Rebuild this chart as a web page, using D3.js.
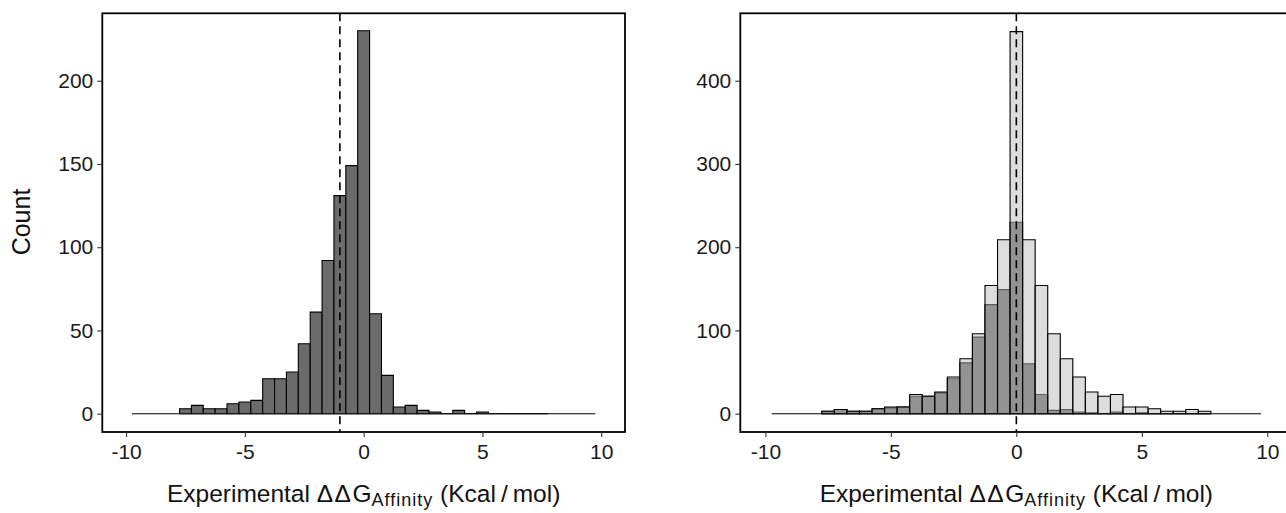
<!DOCTYPE html>
<html>
<head>
<meta charset="utf-8">
<script src="https://cdn.jsdelivr.net/npm/d3@7"></script>
<style>
  body { margin: 0; background: #fff; overflow: hidden; }
  text { font-family: "Liberation Sans", Arial, sans-serif; }
</style>
</head>
<body>
<div id="chart-area"></div>
<script>
const WIDTH = 1286;
const HEIGHT = 513;

// histogram bins (centres, width 0.5)
const binCenters = [-7.5, -7, -6.5, -6, -5.5, -5, -4.5, -4, -3.5, -3, -2.5, -2, -1.5, -1, -0.5,
  0, 0.5, 1, 1.5, 2, 2.5, 3, 3.5, 4, 4.5, 5, 5.5, 6, 6.5, 7, 7.5];
const binWidth = 0.5;
const histRange = [-9.75, 9.75];

// experimental ddG counts (left panel, dark bars of right panel)
const observedCounts = [3, 5, 3, 3, 6, 7, 8, 21, 21, 25, 42, 61, 92, 131, 149,
  230, 60, 23, 4, 5, 2, 1, 0, 2, 0, 1, 0, 0, 0, 0, 0];
// light bars of right panel
const combinedCounts = [3, 5, 3, 3, 6, 8, 8, 23, 21, 26, 44, 66, 96, 154, 209,
  459, 209, 154, 96, 66, 44, 26, 21, 23, 8, 8, 6, 3, 3, 5, 3];

const meanLines = [-1.0, 0];
const xTicks = [-10, -5, 0, 5, 10];
const yTicksLeft = [0, 50, 100, 150, 200];
const yTicksRight = [0, 100, 200, 300, 400];

const svg = d3.select("#chart-area").append("svg")
  .attr("width", WIDTH)
  .attr("height", HEIGHT);

function drawPanel(opts) {
  const x = d3.scaleLinear().domain([-11, 11]).range([opts.left, opts.right]);
  const y = d3.scaleLinear().domain(opts.yDomain).range([432, 13.3]);
  const g = svg.append("g");

  // baseline of empty bins
  g.append("line")
    .attr("x1", x(histRange[0])).attr("x2", x(histRange[1]))
    .attr("y1", y(0)).attr("y2", y(0))
    .attr("stroke", "#000").attr("stroke-width", 1.1);

  opts.layers.forEach(layer => {
    g.append("g").selectAll("path")
      .data(binCenters.map((c, i) => ({ c: c, n: layer.counts[i] })))
      .enter().append("path")
      .attr("d", d => {
        const x0 = x(d.c - binWidth / 2), x1 = x(d.c + binWidth / 2);
        return `M${x0},${y(0)}H${x1}V${y(d.n)}H${x0}Z`;
      })
      .attr("fill", layer.fill)
      .attr("fill-opacity", layer.opacity)
      .attr("stroke", "#000")
      .attr("stroke-width", 1.1);
  });

  // mean line
  g.append("line")
    .attr("x1", x(opts.mean)).attr("x2", x(opts.mean))
    .attr("y1", 13.3).attr("y2", 432)
    .attr("stroke", "#000").attr("stroke-width", 1.6)
    .attr("stroke-dasharray", "8,5");

  // border
  g.append("rect")
    .attr("x", opts.left).attr("y", 13.3)
    .attr("width", opts.right - opts.left).attr("height", 432 - 13.3)
    .attr("fill", "none").attr("stroke", "#000").attr("stroke-width", 1.8);

  const xAxis = g.append("g")
    .attr("transform", "translate(0,432)")
    .call(d3.axisBottom(x).tickValues(xTicks).tickSize(5).tickPadding(7).tickFormat(d3.format("d")));
  const yAxis = g.append("g")
    .attr("transform", `translate(${opts.left},0)`)
    .call(d3.axisLeft(y).tickValues(opts.yTicks).tickSize(5).tickPadding(4));

  [xAxis, yAxis].forEach(a => {
    a.select(".domain").remove();
    a.selectAll(".tick line").attr("stroke", "#333").attr("stroke-width", 1.1);
    a.selectAll(".tick text").attr("fill", "#1a1a1a").attr("font-size", "21px")
      .attr("font-family", "Liberation Sans, Arial, sans-serif");
  });
  xAxis.selectAll(".tick text").text(d => d < 0 ? "-" + Math.abs(d) : d);

  // x title
  const title = g.append("text")
    .attr("x", (x(-11) + x(11)) / 2)
    .attr("y", 502)
    .attr("text-anchor", "middle")
    .attr("font-size", "24.5px")
    .attr("fill", "#111");
  title.append("tspan").text("Experimental ");
  title.append("tspan").attr("letter-spacing", 1.5).text("\u0394\u0394");
  title.append("tspan").text("G");
  title.append("tspan").attr("font-size", "18px").attr("letter-spacing", 1).attr("dy", 4).text("Affinity");
  title.append("tspan").attr("dy", -4).text(" (Kcal");
  title.append("tspan").attr("dx", 5).text("/");
  title.append("tspan").attr("dx", 5).text("mol)");
}

drawPanel({
  left: 102.3, right: 625, yDomain: [-11, 240.5], yTicks: yTicksLeft, mean: meanLines[0],
  layers: [{ counts: observedCounts, fill: "#6b6b6b", opacity: 1 }]
});

drawPanel({
  left: 740.3, right: 1292.4, yDomain: [-22, 481], yTicks: yTicksRight, mean: meanLines[1],
  layers: [
    { counts: observedCounts, fill: "#6b6b6b", opacity: 1 },
    { counts: combinedCounts, fill: "#bbbbbb", opacity: 0.5 }
  ]
});

svg.append("text")
  .attr("transform", "translate(21,222) rotate(-90)")
  .attr("text-anchor", "middle")
  .attr("dominant-baseline", "central")
  .attr("font-size", "25px")
  .attr("fill", "#111")
  .text("Count");
</script>
</body>
</html>
